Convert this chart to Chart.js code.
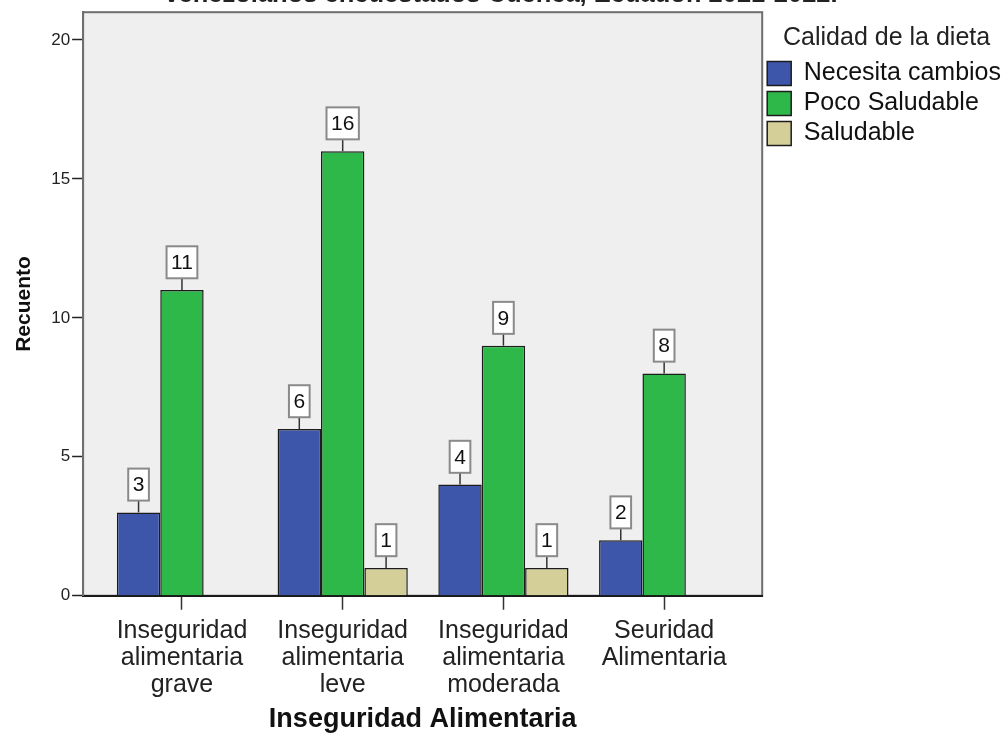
<!DOCTYPE html>
<html>
<head>
<meta charset="utf-8">
<script src="https://cdn.jsdelivr.net/npm/chart.js@4/dist/chart.umd.min.js"></script>
<style>
  html, body { margin: 0; padding: 0; background: #fff; }
  #wrap { width: 1005px; height: 733px; }
</style>
</head>
<body>
<div id="wrap"><canvas id="grafico"></canvas></div>
<script>
const categorias = [
    ['Inseguridad', 'alimentaria', 'grave'],
    ['Inseguridad', 'alimentaria', 'leve'],
    ['Inseguridad', 'alimentaria', 'moderada'],
    ['Seuridad', 'Alimentaria']
];
const necesitaCambios = [3, 6, 4, 2];
const pocoSaludable = [11, 16, 9, 8];
const saludable = [null, 1, 1, null];
const yTicks = [0, 5, 10, 15, 20];

Chart.defaults.font.family = "'Liberation Sans', Arial, sans-serif";
Chart.defaults.color = '#222';

const toPoints = arr => arr.map((v, i) => ({ x: i, y: v }));

// fondo gris y marco del area de grafico
const marco = {
    id: 'marco',
    beforeDraw(chart) {
        const { ctx, chartArea: a } = chart;
        ctx.save();
        ctx.fillStyle = '#efefef';
        ctx.fillRect(a.left, a.top, a.right - a.left, a.bottom - a.top);
        ctx.strokeStyle = '#6e6e6e';
        ctx.lineWidth = 2;
        ctx.strokeRect(a.left, a.top, a.right - a.left, a.bottom - a.top);
        ctx.restore();
    },
    afterDraw(chart) {
        // titulo cortado arriba
        const ctx = chart.ctx;
        ctx.save();
        ctx.font = "bold 25.5px 'Liberation Sans', Arial, sans-serif";
        ctx.fillStyle = '#222';
        ctx.textAlign = 'center';
        ctx.textBaseline = 'alphabetic';
        ctx.fillText('venezolanos encuestados Cuenca, Ecuador. 2021-2022.', 501, 2);
        ctx.restore();
    }
};

// etiquetas con caja encima de cada barra
const etiquetas = {
    id: 'etiquetas',
    afterDatasetsDraw(chart) {
        const ctx = chart.ctx;
        const y = chart.scales.y;
        ctx.save();
        ctx.font = "21px 'Liberation Sans', Arial, sans-serif";
        ctx.textAlign = 'center';
        ctx.textBaseline = 'middle';
        chart.data.datasets.forEach((ds, di) => {
            const meta = chart.getDatasetMeta(di);
            meta.data.forEach((bar, i) => {
                const v = ds.data[i].y;
                if (v === null || v === undefined) return;
                const txt = String(v);
                const w = ctx.measureText(txt).width + 9;
                const h = 32;
                const cy = y.getPixelForValue(v + 1);
                const top = cy - h / 2;
                ctx.strokeStyle = '#333';
                ctx.lineWidth = 1.5;
                ctx.beginPath();
                ctx.moveTo(bar.x, bar.y);
                ctx.lineTo(bar.x, top + h);
                ctx.stroke();
                ctx.fillStyle = '#fff';
                ctx.fillRect(bar.x - w / 2, top, w, h);
                ctx.strokeStyle = '#8a8a8a';
                ctx.lineWidth = 2;
                ctx.strokeRect(bar.x - w / 2, top, w, h);
                ctx.fillStyle = '#111';
                ctx.fillText(txt, bar.x, cy + 1);
            });
        });
        ctx.restore();
    }
};

const data = {
    datasets: [{
        label: 'Necesita cambios',
        data: toPoints(necesitaCambios),
        backgroundColor: '#3d56aa',
        borderColor: '#1c1c1c',
        borderWidth: 1.5
    }, {
        label: 'Poco Saludable',
        data: toPoints(pocoSaludable),
        backgroundColor: '#2eb84a',
        borderColor: '#1c1c1c',
        borderWidth: 1.5
    }, {
        label: 'Saludable',
        data: toPoints(saludable),
        backgroundColor: '#d4ce98',
        borderColor: '#1c1c1c',
        borderWidth: 1.5
    }]
};

const options = {
    responsive: true,
    maintainAspectRatio: false,
    animation: false,
    layout: { padding: { top: 11, left: 9, right: -6, bottom: 0 } },
    datasets: { bar: { categoryPercentage: 0.81, barPercentage: 1 } },
    scales: {
        x: {
            type: 'linear',
            min: -0.615,
            max: 3.61,
            offset: false,
            ticks: {
                stepSize: 1,
                includeBounds: false,
                autoSkip: false,
                maxRotation: 0,
                padding: 8,
                color: '#222',
                font: { size: 25, lineHeight: 1.07 },
                callback: v => categorias[v]
            },
            grid: { offset: false, drawOnChartArea: false, tickLength: 14, tickColor: '#333', tickWidth: 1.5 },
            border: { color: '#1a1a1a', width: 2 },
            title: {
                display: true,
                text: 'Inseguridad Alimentaria',
                color: '#111',
                font: { size: 27, weight: 'bold', lineHeight: 1 },
                padding: { top: 0, bottom: 0 }
            }
        },
        y: {
            min: 0,
            max: 21,
            afterBuildTicks: axis => { axis.ticks = yTicks.map(v => ({ value: v })); },
            ticks: { padding: 2, color: '#222', font: { size: 17 } },
            grid: { drawOnChartArea: false, tickLength: 11, tickColor: '#222', tickWidth: 1.5 },
            border: { color: '#6e6e6e', width: 2 },
            title: {
                display: true,
                text: 'Recuento',
                color: '#111',
                font: { size: 21, weight: 'bold' },
                padding: { top: 3, bottom: 12 }
            }
        }
    },
    plugins: {
        legend: {
            position: 'right',
            align: 'start',
            title: {
                display: true,
                text: 'Calidad de la dieta',
                color: '#222',
                font: { size: 25 },
                padding: { top: 15, bottom: 0 }
            },
            labels: {
                boxWidth: 24,
                boxHeight: 24,
                padding: 5,
                color: '#111',
                font: { size: 25 }
            }
        },
        tooltip: { enabled: false }
    }
};

const config = {
    type: 'bar',
    data: data,
    options: options,
    plugins: [marco, etiquetas]
};

const chart = new Chart(document.getElementById('grafico'), config);
</script>
</body>
</html>
